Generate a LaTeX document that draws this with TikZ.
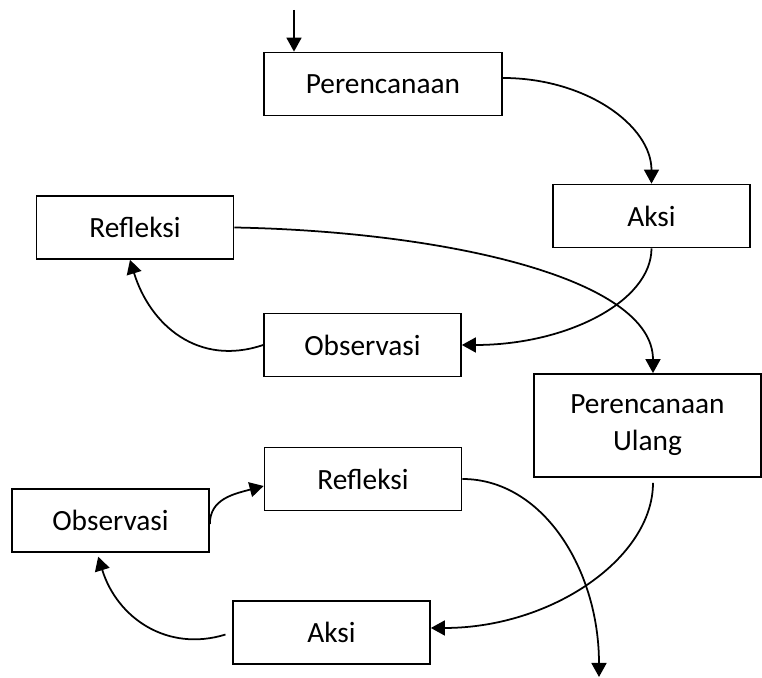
\documentclass[tikz,border=0pt]{standalone}
\usepackage{fontspec}
\setmainfont{Carlito}
\usetikzlibrary{arrows.meta}

\begin{document}
\begin{tikzpicture}[x=0.02cm,y=0.02cm,
  box/.style={draw=black,line width=1pt,fill=white,minimum width=3.94cm,minimum height=1.26cm,inner sep=1pt,align=center,font=\fontsize{16.7}{21}\selectfont},
  wide/.style={box,minimum width=4.76cm},
  arr/.style={draw=black,line width=1pt,-{Triangle[width=0.3cm,length=0.28cm]}}]
  \useasboundingbox (0,0) rectangle (762,678);
  % first cycle
  \node[wide] (plan)  at (383,594)   {Perencanaan};
  \node[box]  (aksi1) at (651.5,462) {Aksi};
  \node[box]  (obs1)  at (362.5,333) {Observasi};
  \node[box]  (refl1) at (135,450.5) {Refleksi};
  % second cycle
  \node[box,minimum width=4.54cm,minimum height=2.06cm] (planU) at (647.5,252.5) {Perencanaan\\Ulang};
  \node[box]  (aksi2) at (331.5,45.5) {Aksi};
  \node[box]  (obs2)  at (110.5,157.5) {Observasi};
  \node[box]  (refl2) at (363,199) {Refleksi};
  % loose ends
  \coordinate (start) at (294,668);
  \coordinate (stop)  at (599,1);
  % connectors
  \draw[arr] (start) -- (start |- plan.north);
  \draw[arr] ([yshift=0.12cm]plan.east) .. controls +(83,0) and +(0,58) .. (aksi1.north);
  \draw[arr] (aksi1.south) .. controls +(0,-53) and +(105,0) .. (obs1.east);
  \draw[arr] (obs1.west) .. controls +(-65,-22) and +(20,-65) .. ([xshift=-0.1cm]refl1.south);
  \draw[arr] (refl1.east) .. controls +(210,-4) and +(0,95) .. ([xshift=0.11cm]planU.north);
  \draw[arr,shorten <=0.1cm] ([xshift=0.11cm]planU.south) .. controls +(0,-80) and +(121,0) .. ([yshift=0.09cm]aksi2.east);
  \draw[arr,shorten <=0.14cm,shorten >=0.08cm] (aksi2.west) .. controls +(-65,-20) and +(20,-65) .. ([xshift=-0.27cm]obs2.south);
  \draw[arr] ([yshift=-0.07cm]obs2.east) .. controls +(0,25) and +(-30,-8) .. ([yshift=-0.14cm]refl2.west);
  \draw[arr] (refl2.east) .. controls +(80,0) and +(0,108) .. (stop);
\end{tikzpicture}
\end{document}
